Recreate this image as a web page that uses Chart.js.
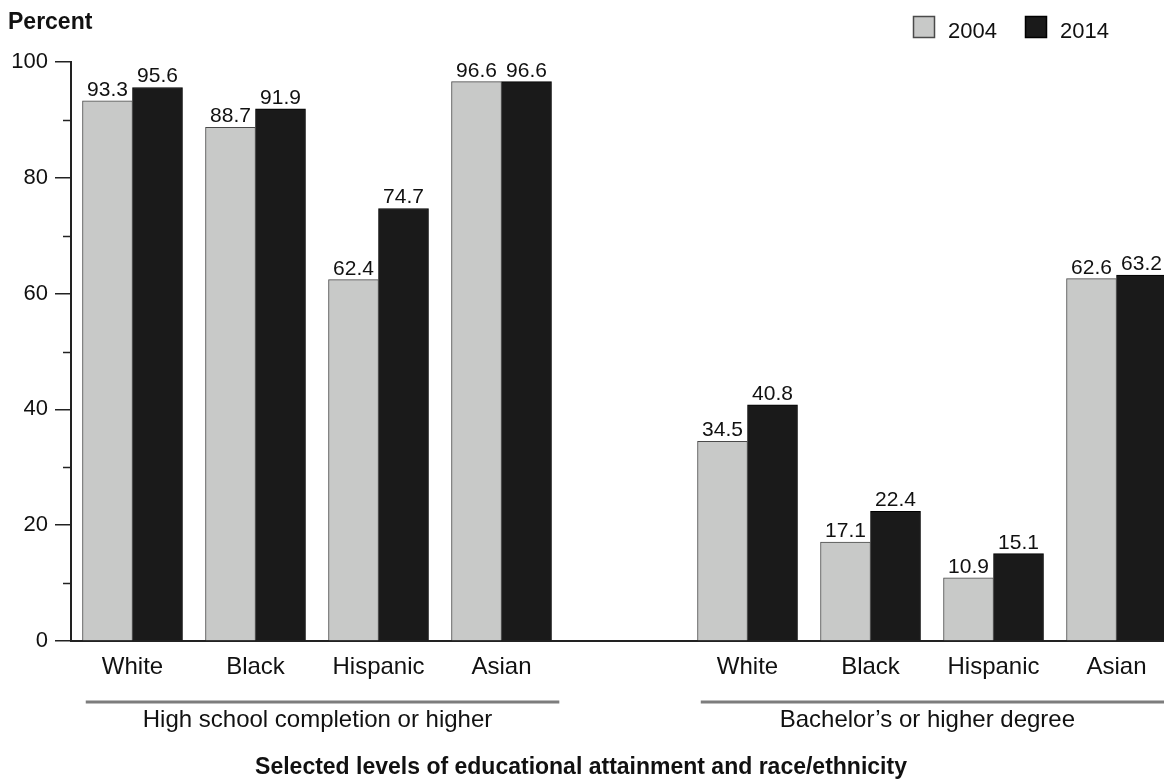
<!DOCTYPE html>
<html>
<head>
<meta charset="utf-8">
<script src="https://cdn.jsdelivr.net/npm/chart.js@4.4.1/dist/chart.umd.min.js"></script>
<style>
  html, body { margin: 0; background: #fff; }
  #wrap { width: 1164px; height: 780px; position: relative; }
</style>
</head>
<body>
<div id="wrap"><canvas id="chart"></canvas></div>
<script>
const races = ["White", "Black", "Hispanic", "Asian"];
const levels = ["High school completion or higher", "Bachelor\u2019s or higher degree"];
const years = ["2004", "2014"];
const values2004 = [93.3, 88.7, 62.4, 96.6, 34.5, 17.1, 10.9, 62.6];
const values2014 = [95.6, 91.9, 74.7, 96.6, 40.8, 22.4, 15.1, 63.2];
const yMajorTicks = [0, 20, 40, 60, 80, 100];
const yMinorTicks = [10, 30, 50, 70, 90];
const yTitle = "Percent";
const xTitle = "Selected levels of educational attainment and race/ethnicity";

const FONT = "'Liberation Sans', Arial, Helvetica, sans-serif";
const colors = ["#c8c9c8", "#1a1a1a"];
const borders = ["#4a4a4a", "#000000"];

// one empty slot between the two groups of bars
const slots = [];
const slotLabels = {};
levels.forEach((lvl, g) => {
    races.forEach((r, i) => {
        const pos = g * (races.length + 1) + i;
        slots.push(pos);
        slotLabels[pos] = r;
    });
});

function toPoints(vals) {
    return vals.map((v, i) => ({ x: slots[i], y: v }));
}

const minorTicksPlugin = {
    id: "minorTicks",
    afterDraw(chart) {
        const y = chart.scales.y;
        const ctx = chart.ctx;
        const left = chart.chartArea.left;
        ctx.save();
        ctx.strokeStyle = "#222";
        ctx.lineWidth = 1.5;
        yMinorTicks.forEach(v => {
            const py = Math.round(y.getPixelForValue(v)) + 0.5;
            ctx.beginPath();
            ctx.moveTo(left - 8, py);
            ctx.lineTo(left, py);
            ctx.stroke();
        });
        ctx.restore();
    }
};

const valueLabelsPlugin = {
    id: "valueLabels",
    afterDatasetsDraw(chart) {
        const ctx = chart.ctx;
        ctx.save();
        ctx.font = "21px " + FONT;
        ctx.fillStyle = "#111";
        ctx.textAlign = "center";
        ctx.textBaseline = "alphabetic";
        chart.data.datasets.forEach((ds, di) => {
            const meta = chart.getDatasetMeta(di);
            meta.data.forEach((bar, i) => {
                ctx.fillText(ds.data[i].y.toFixed(1), bar.x, bar.y - 5);
            });
        });
        ctx.restore();
    }
};

const decorPlugin = {
    id: "decor",
    afterDraw(chart) {
        const ctx = chart.ctx;
        const x = chart.scales.x;
        const area = chart.chartArea;
        const slotW = x.getPixelForValue(1) - x.getPixelForValue(0);
        ctx.save();

        // y axis title
        ctx.fillStyle = "#111";
        ctx.font = "bold 23px " + FONT;
        ctx.textAlign = "left";
        ctx.textBaseline = "alphabetic";
        ctx.fillText(yTitle, 8, 29);

        // legend
        const legendX = [913, 1025];
        years.forEach((yr, i) => {
            ctx.fillStyle = colors[i];
            ctx.fillRect(legendX[i], 16, 22, 22);
            ctx.strokeStyle = borders[i];
            ctx.lineWidth = 1.5;
            ctx.strokeRect(legendX[i] + 0.5, 16.5, 21, 21);
            ctx.fillStyle = "#111";
            ctx.font = "22px " + FONT;
            ctx.fillText(yr, legendX[i] + 35, 38);
        });

        // group brackets and labels
        levels.forEach((lvl, g) => {
            const first = slots[g * races.length];
            const last = slots[g * races.length + races.length - 1];
            const x0 = x.getPixelForValue(first) - 0.38 * slotW;
            const x1 = Math.min(x.getPixelForValue(last) + 0.47 * slotW, area.right);
            ctx.strokeStyle = "#7d7d7d";
            ctx.lineWidth = 3;
            ctx.beginPath();
            ctx.moveTo(x0, 702);
            ctx.lineTo(x1, 702);
            ctx.stroke();
            ctx.fillStyle = "#111";
            ctx.font = "24px " + FONT;
            ctx.textAlign = "center";
            ctx.fillText(lvl, (x0 + x1) / 2 - 5, 727);
        });

        // x axis title
        ctx.font = "bold 23px " + FONT;
        ctx.textAlign = "center";
        ctx.fillText(xTitle, 581, 774);
        ctx.restore();
    }
};

const ctx = document.getElementById("chart").getContext("2d");

const chart = new Chart(ctx, {
    type: "bar",
    data: {
        datasets: [
            {
                label: years[0],
                data: toPoints(values2004),
                backgroundColor: colors[0],
                borderColor: borders[0],
                borderWidth: 1,
            },
            {
                label: years[1],
                data: toPoints(values2014),
                backgroundColor: colors[1],
                borderColor: borders[1],
                borderWidth: 1,
            }
        ]
    },
    options: {
        responsive: true,
        maintainAspectRatio: false,
        animation: false,
        barThickness: 50,
        layout: { padding: { top: 62, left: 0, right: 0, bottom: 0 } },
        plugins: {
            legend: { display: false },
            tooltip: { enabled: false }
        },
        scales: {
            x: {
                type: "linear",
                offset: false,
                min: -0.5,
                max: 8.386,
                afterBuildTicks: (axis) => {
                    axis.ticks = slots.map(v => ({ value: v }));
                },
                afterFit: (axis) => { axis.height = 139; },
                grid: { display: false, drawTicks: false },
                border: { display: true, color: "#222", width: 2 },
                ticks: {
                    autoSkip: false,
                    maxRotation: 0,
                    padding: 12,
                    color: "#111",
                    font: { family: FONT, size: 24 },
                    callback: (v) => slotLabels[v] || ""
                }
            },
            y: {
                min: 0,
                max: 100,
                afterBuildTicks: (axis) => {
                    axis.ticks = yMajorTicks.map(v => ({ value: v }));
                },
                afterFit: (axis) => { axis.width = 71; },
                grid: {
                    drawOnChartArea: false,
                    drawTicks: true,
                    tickLength: 16,
                    color: "#222",
                    lineWidth: 1.5
                },
                border: { display: true, color: "#222", width: 2 },
                ticks: {
                    padding: 7,
                    color: "#111",
                    font: { family: FONT, size: 22 }
                }
            }
        }
    },
    plugins: [minorTicksPlugin, valueLabelsPlugin, decorPlugin]
});
</script>
</body>
</html>
